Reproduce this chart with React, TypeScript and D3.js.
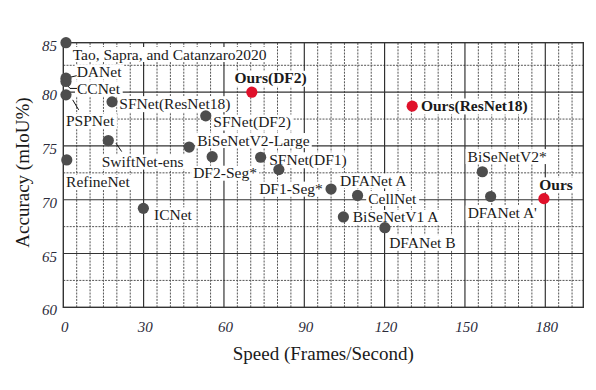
import React, { useEffect, useRef } from "react";
import * as d3 from "d3";

// ---- data ----
const methods = [
  "Tao, Sapra, and Catanzaro2020", "DANet", "CCNet", "PSPNet", "RefineNet",
  "SFNet(ResNet18)", "SwiftNet-ens", "ICNet", "BiSeNetV2-Large", "SFNet(DF2)",
  "DF2-Seg*", "Ours(DF2)", "SFNet(DF1)", "DF1-Seg*", "DFANet A", "BiSeNetV1 A",
  "CellNet", "DFANet B", "Ours(ResNet18)", "BiSeNetV2*", "DFANet A'", "Ours",
];
const speeds = [1.0, 1.0, 1.0, 1.0, 1.3, 18.2, 16.8, 29.9, 47.0, 53.2, 55.6, 70.4, 73.7, 80.5, 100.0, 104.6, 109.9, 120.1, 130.3, 156.5, 159.6, 179.5];
const accuracies = [84.6, 81.3, 81.0, 79.75, 73.7, 79.1, 75.5, 69.2, 74.9, 77.8, 74.0, 80.0, 73.95, 72.8, 71.0, 68.4, 70.4, 67.4, 78.7, 72.6, 70.3, 70.1];
const ours = ["Ours(DF2)", "Ours(ResNet18)", "Ours"];

const xTicks = [0, 30, 60, 90, 120, 150, 180];
const yTicks = [60, 65, 70, 75, 80, 85];
const xTitle = "Speed (Frames/Second)";
const yTitle = "Accuracy (mIoU%)";

// ---- annotation layout (pixel offsets of label left/center from the dot) ----
const labelOffsets: [number, number][] = [
  [6.7, 11.3], [10.7, -6.6], [11, 6.8], [0, 25.7], [-0.7, 21.7],
  [7.3, 1.3], [-6.6, 21], [10.7, 6], [8, -7], [7.6, 5.7],
  [-19, 16], [-17.4, -14.4], [8.6, 2], [-19.7, 19], [9, -8.6], [9.4, 0],
  [10.6, 2.6], [4.3, 14.4], [8.7, -0.7], [-14.8, -15.7], [-23, 16], [-4.7, -14.3],
];
const leaders: Record<string, [number, number][]> = {
  "DANet": [[0, 0], [10.7, -2.5]],
  "CCNet": [[0, 2], [4, 7], [11, 7]],
  "PSPNet": [[6.7, 5], [12.7, 15]],
  "SwiftNet-ens": [[7.7, 2.6], [13.4, 11]],
};

const W = 596, H = 390;
const FONT = "'Liberation Serif', 'Times New Roman', serif";

export default function App() {
  const ref = useRef<SVGSVGElement>(null);

  useEffect(() => {
    const svg = d3.select(ref.current);
    svg.selectAll("*").remove();

    const x = d3.scaleLinear().domain([0, 194.2]).range([63.3, 583.3]);
    const y = d3.scaleLinear().domain([60, 84.6]).range([307.3, 42.7]);
    const [x0, x1] = x.range();
    const [y0, y1] = y.range();

    const g = svg.append("g");

    // minor grid
    const minorX = d3.range(5, 194, 5).filter((v) => v % 30 !== 0);
    const minorY = [62.5, 67.5, 72.5, 77.5, 82.5];
    g.selectAll(".mx").data(minorX).enter().append("line")
      .attr("x1", (d) => x(d)).attr("x2", (d) => x(d))
      .attr("y1", y0).attr("y2", y1)
      .attr("stroke", "#555").attr("stroke-width", 1).attr("stroke-dasharray", "2,1.2");
    g.selectAll(".my").data(minorY).enter().append("line")
      .attr("x1", x0).attr("x2", x1)
      .attr("y1", (d) => y(d)).attr("y2", (d) => y(d))
      .attr("stroke", "#555").attr("stroke-width", 1).attr("stroke-dasharray", "2,1.2");

    // major grid
    g.selectAll(".Mx").data(xTicks.filter((v) => v > 0)).enter().append("line")
      .attr("x1", (d) => x(d)).attr("x2", (d) => x(d))
      .attr("y1", y0).attr("y2", y1)
      .attr("stroke", "#222").attr("stroke-width", 1.1);
    g.selectAll(".My").data(yTicks.filter((v) => v > 60 && v < 84)).enter().append("line")
      .attr("x1", x0).attr("x2", x1)
      .attr("y1", (d) => y(d)).attr("y2", (d) => y(d))
      .attr("stroke", "#333").attr("stroke-width", 1.2);

    // labels with white boxes
    const labG = svg.append("g");
    const items = methods.map((m, i) => ({
      name: m, sx: x(speeds[i]), sy: y(accuracies[i]), off: labelOffsets[i], ours: ours.includes(m),
    }));
    const boxes = labG.append("g");
    const texts = labG.append("g");
    items.forEach((it) => {
      const t = texts.append("text")
        .attr("x", it.sx + it.off[0])
        .attr("y", it.sy + it.off[1])
        .attr("dominant-baseline", "central")
        .attr("font-family", FONT)
        .attr("font-size", 15.5)
        .attr("font-weight", it.ours ? "bold" : "normal")
        .attr("fill", "#1a1a1a")
        .text(it.name);
      const bb = (t.node() as SVGTextElement).getBBox();
      boxes.append("rect")
        .attr("x", bb.x - 2).attr("y", bb.y + 1.5)
        .attr("width", bb.width + 4).attr("height", bb.height - 2)
        .attr("fill", "#fff");
    });

    // leader lines
    items.forEach((it) => {
      const pts = leaders[it.name];
      if (!pts) return;
      svg.append("path")
        .attr("d", d3.line()(pts.map(([dx, dy]) => [it.sx + dx, it.sy + dy]) as [number, number][]))
        .attr("fill", "none").attr("stroke", "#111").attr("stroke-width", 1);
    });

    // frame
    svg.append("rect")
      .attr("x", x0).attr("y", y1).attr("width", x1 - x0).attr("height", y0 - y1)
      .attr("fill", "none").attr("stroke", "#333").attr("stroke-width", 1.4);

    // dots
    svg.append("g").selectAll("circle").data(items).enter().append("circle")
      .attr("cx", (d) => d.sx).attr("cy", (d) => d.sy).attr("r", 5.6)
      .attr("fill", (d) => (d.ours ? "#e0112b" : "#4d4d4d"));

    // tick labels
    svg.append("g").selectAll("text").data(xTicks).enter().append("text")
      .attr("x", (d) => x(d) + 1.5).attr("y", 327)
      .attr("text-anchor", "middle").attr("dominant-baseline", "central")
      .attr("font-family", FONT).attr("font-style", "italic").attr("font-size", 15)
      .attr("fill", "#2b2b3a").text((d) => String(d));
    svg.append("g").selectAll("text").data(yTicks).enter().append("text")
      .attr("x", 57).attr("y", (d) => y(Math.min(d, y.domain()[1])) + 3)
      .attr("text-anchor", "end").attr("dominant-baseline", "central")
      .attr("font-family", FONT).attr("font-style", "italic").attr("font-size", 15)
      .attr("fill", "#2b2b3a").text((d) => String(d));

    // axis titles
    svg.append("text")
      .attr("x", (x0 + x1) / 2).attr("y", 353)
      .attr("text-anchor", "middle").attr("dominant-baseline", "central")
      .attr("font-family", FONT).attr("font-size", 19).attr("fill", "#1a1a1a")
      .text(xTitle);
    svg.append("text")
      .attr("transform", `translate(22,172.5) rotate(-90)`)
      .attr("text-anchor", "middle").attr("dominant-baseline", "central")
      .attr("font-family", FONT).attr("font-size", 19).attr("fill", "#1a1a1a")
      .text(yTitle);
  }, []);

  return (
    <svg
      ref={ref}
      width={W}
      height={H}
      style={{ position: "fixed", left: 0, top: 0, background: "#fff", display: "block" }}
    />
  );
}
